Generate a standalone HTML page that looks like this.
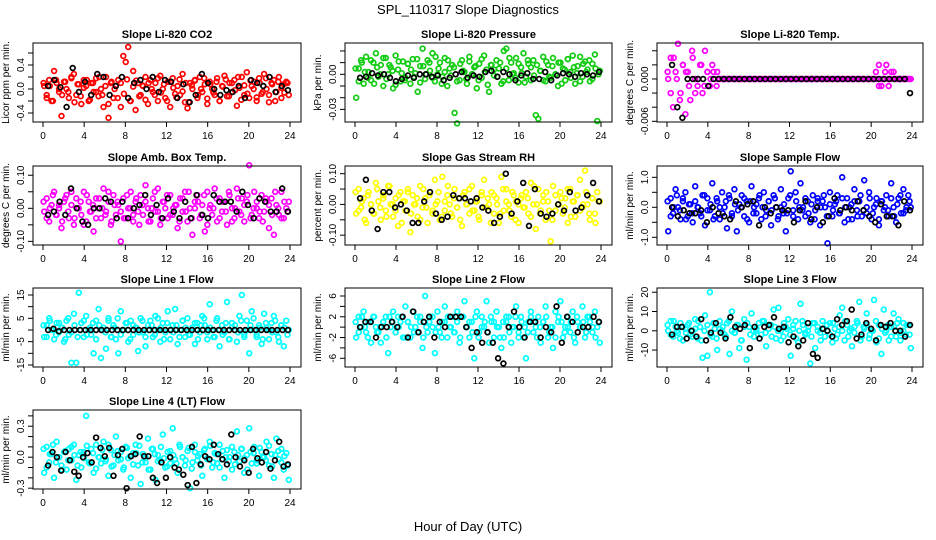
<!DOCTYPE html>
<html><head><meta charset="utf-8"><style>
body{margin:0;background:#fff}
svg{display:block;font-family:"Liberation Sans",sans-serif}
</style></head><body>
<svg id="chart" width="936" height="540">
<text x="468" y="14" font-size="13" text-anchor="middle">SPL_110317  Slope Diagnostics</text>
<text x="468" y="531" font-size="13" text-anchor="middle">Hour of Day (UTC)</text>
</svg>
<script>
const xTicks=[0,4,8,12,16,20,24];
const titles=["Slope Li-820 CO2","Slope Li-820 Pressure","Slope Li-820 Temp.","Slope Amb. Box Temp.","Slope Gas Stream RH","Slope Sample Flow","Slope Line 1 Flow","Slope Line 2 Flow","Slope Line 3 Flow","Slope Line 4 (LT) Flow"];
const yLabels=["Licor ppm per min.","kPa per min.","degrees C per min.","degrees C per min.","percent per min.","ml/min per min.","ml/min per min.","ml/min per min.","ml/min per min.","ml/min per min."];
const yLims=[[-0.55,0.767],[-0.0408,0.0268],[-0.0061,0.0051],[-0.111,0.128],[-0.132,0.125],[-1.257,1.377],[-15.86,18],[-7.68,7.54],[-18.8,22.2],[-0.308,0.457]];
const yTicks=[[-0.4,-0.2,0,0.2,0.4,0.6],[-0.03,-0.02,-0.01,0,0.01,0.02],[-0.006,-0.004,-0.002,0,0.002,0.004],[-0.1,-0.05,0,0.05,0.1],[-0.1,-0.05,0,0.05,0.1],[-1,-0.5,0,0.5,1],[-15,-10,-5,0,5,10,15],[-6,-4,-2,0,2,4,6],[-10,0,10,20],[-0.3,-0.2,-0.1,0,0.1,0.2,0.3,0.4]];
const yTickLabels=[["-0.4","","0.0","","0.4",""],["-0.03","","","0.00","",""],["-0.006","","","0.000","",""],["-0.10","","0.00","","0.10"],["-0.10","","0.00","","0.10"],["-1.0","","0.0","","1.0"],["-15","","-5","","5","","15"],["-6","","-2","","2","","6"],["-10","0","10","20"],["-0.3","","","0.0","","","0.3",""]];
const colors=["#ff0000","#11cc11","#ff00ff","#ff00ff","#ffff00","#0000ff","#00ffff","#00ffff","#00ffff","#00ffff"];
const scales=[1,0.001,0.001,0.01,0.01,0.1,1,1,1,0.01];
const colCO2=[0.05,-0.1,0.15,-0.2,0.3,0.1,-0.05,-0.45,0.12,0.0,-0.15,0.2,0.25,-0.1,0.08,-0.25,0.15,0.05,-0.2,0.1,-0.05,0.18,-0.12,0.0,-0.3,0.2,-0.48,0.1,-0.15,0.05,0.15,-0.3,0.55,0.45,0.7,-0.2,0.3,-0.35,0.1,-0.1,0.05,0.2,-0.25,0.15,-0.05,0.1,-0.2,0.22,0.0,-0.15,0.12,-0.3,0.18,-0.08,0.05,-0.1,0.25,-0.22,-0.32,0.1,0.0,0.15,-0.15,0.2,-0.05,0.08,-0.25,0.12,0.0,-0.1,0.18,-0.2,0.05,0.22,-0.12,0.1,-0.05,0.15,-0.28,0.02,0.2,-0.1,0.28,-0.15,0.05,0.12,-0.2,0.18,-0.08,0.25,0.0,-0.22,0.1,0.15,-0.05,0.2,-0.15,0.08,0.12,-0.1];
const colCO2b=[0.1,-0.15,0.05,-0.2,0.15,0.0,-0.1,0.12,-0.05,0.18,-0.22,0.08,-0.12,0.02,0.15,-0.18,0.1,-0.05,0.2,-0.1,0.05,-0.25,0.12,0.0,-0.15,0.1,-0.08,0.16,-0.2,0.04,0.14,-0.12,0.06,-0.18,0.1,0.0,-0.1,0.18,-0.06,0.08,-0.2,0.12,0.02,-0.14,0.16,-0.04,0.1,-0.22,0.06,0.14,-0.1,0.0,0.18,-0.16,0.08,-0.06,0.12,-0.2,0.04,0.16,-0.12,0.1,-0.02,0.2,-0.18,0.06,-0.08,0.14,0.0,-0.14,0.1,-0.05,0.18,-0.1,0.08,-0.2,0.12,0.02,-0.06,0.1];
const blkCO2=[0.05,0.15,0.03,-0.3,0.35,-0.05,0.12,-0.1,0.25,0.2,-0.1,0.05,0.2,-0.15,0.1,0.15,0.0,0.2,-0.05,0.15,0.12,-0.15,0.08,-0.22,-0.1,0.25,0.1,0.0,-0.1,-0.02,-0.05,0.05,-0.15,0.15,0.1,0.05,0.2,-0.05,0.05,-0.02];
const colPres=[-20,5,12,-8,15,2,-5,10,18,-2,8,-10,14,0,6,-12,16,4,-6,11,-3,9,-8,13,1,-15,7,22,-4,12,3,18,-6,0,10,-2,14,-10,5,8,-33,-42,-5,12,2,-8,15,0,6,-12,9,-3,16,4,-15,8,-1,12,5,-8,20,22,-5,10,1,14,-7,6,18,-2,9,-5,12,-35,-38,3,15,-6,8,-3,14,0,-10,10,5,-5,13,2,16,-8,7,15,-2,11,4,-6,9,17,-40,3];
const colPresb=[5,-6,10,2,-3,12,-8,6,0,14,-4,8,3,-9,11,1,-5,9,4,-2,13,-7,7,0,10,-3,15,5,-8,2,12,-1,6,-6,9,3,-4,11,0,7,-5,13,2,-9,8,4,-2,10,-6,5,14,0,-3,9,1,-7,12,6,-1,8,3,-5,11,-2,7,0,10,-8,4,13,-3,6,1,-6,9,2,12,-4,5,0];
const blkPres=[-3,-2,1,-1,0,-3,-6,-4,-1,-3,0,0,-2,-1,-5,-3,0,2,-3,-1,-2,2,3,-2,2,0,-5,-1,1,-4,-4,2,-5,-1,1,0,-2,1,0,-1,2];
const colTemp=[0,3,-4,1,5,-2,2,-5,1,-3,3,0,-1,2,-2,4,1,-1,2,0,1,0,0,0,0,0,0,0,0,0,0,0,0,0,0,0,0,0,0,0,0,0,0,0,0,0,0,0,0,0,0,0,0,0,0,0,0,0,0,0,0,0,0,0,0,0,0,0,0,0,0,0,0,0,0,0,0,0,0,0,0,0,0,0,0,0,2,-1,0,2,-1,1,1,0,0,0,0,0,0,0];
const colTempb=[1,-2,3,0,-3,2,1,-1,4,-2,0,2,-1,1,0,1,-1,0,0,0,0,0,0,0,0,0,0,0,0,0,0,0,0,0,0,0,0,0,0,0,0,0,0,0,0,0,0,0,0,0,0,0,0,0,0,0,0,0,0,0,0,0,0,0,0,0,0,0,1,-1,0,1,0,0,0,0,0,0,0,0];
const blkTemp=[2,-4,-5.5,0,0,0,0,-1,0,0,0,0,0,0,0,0,0,0,0,0,0,0,0,0,0,0,0,0,0,0,0,0,0,0,0,0,0,0,0,0,0,0,0,0,0,0,-2];
const colAmb=[-1,3,-4,1,5,-2,0,-6,2,4,-3,1,-5,3,0,-2,5,-4,2,-1,-7,3,0,-3,6,-1,2,-5,4,-2,1,-10,3,-3,0,5,-4,2,-1,4,-2,7,0,-4,3,-1,6,-5,2,0,-3,4,-2,1,-6,3,-1,5,-4,0,-8,2,4,-3,1,-7,5,0,-2,6,-4,3,-1,2,-5,4,0,-3,6,-1,3,-4,2,13,-2,5,0,-3,4,-1,2,-6,3,-8,1,-2,5,-3,0,2];
const colAmbb=[2,-3,0,4,-2,1,-4,3,-1,5,-3,0,2,-5,4,-1,1,-3,3,0,-2,5,-4,1,2,-1,-3,4,0,-2,3,-5,1,2,-4,0,5,-1,-3,2,4,-2,0,1,-4,3,-1,5,-3,0,2,-2,4,-5,1,0,3,-3,2,-1,5,-4,0,3,-2,1,4,-3,0,2,-1,-4,3,1,-2,5,0,-3,2,-1];
const blkAmb=[-2,-1,2,-2,6,0,-4,-5,0,0,3,2,-3,2,-3,0,1,4,-2,1,-3,3,-1,-3,2,-3,4,-2,-3,4,2,2,2,-1,5,1,-3,3,2,-1,-1,6,-1];
const colRH=[-3,5,-1,2,-6,4,0,-3,7,1,-5,3,-2,6,0,-4,2,-7,4,1,-2,5,-9,3,0,-4,6,-1,2,-6,4,-3,8,1,-5,9,-2,3,0,-4,5,-1,2,-7,4,0,-3,6,-2,1,-5,3,8,-1,0,4,-3,2,-6,9,-2,5,0,-4,3,1,-6,2,-1,4,-3,7,0,-8,5,-2,3,-5,1,-12,6,-2,0,4,-3,2,-6,5,1,-4,3,8,-1,11,0,-5,2,-3,4,1];
const colRHb=[4,-2,1,-5,3,0,-3,5,-1,2,-4,6,0,-2,3,-6,1,4,-3,0,2,-5,5,-1,3,-2,0,4,-4,1,6,-3,2,-1,-5,3,0,5,-2,1,-4,4,-1,2,-6,3,0,-3,5,1,-2,4,-5,0,3,-1,2,-4,6,0,-3,1,4,-2,-5,3,0,2,-1,5,-4,1,3,-2,0,4,-3,2,-6,1];
const blkRH=[2,8,-2,-8,4,4,-1,0,-2,-6,-6,1,4,-3,-5,-4,3,2,2,1,2,-1,-2,-6,-4,10,-3,1,7,-7,5,-3,-4,-3,0,-2,4,-2,-1,3,7,1];
const colSamp=[-8,3,-2,6,0,-4,2,5,-3,1,-5,7,0,-2,4,-6,3,-1,8,-3,2,-4,5,0,-7,3,-2,6,-8,1,4,-3,2,-5,7,0,-2,3,-4,5,-1,2,-6,4,0,-3,6,-2,-8,3,12,-1,5,-4,8,0,-3,2,-5,4,-1,3,-6,2,0,-12,5,-3,1,4,-2,10,-5,3,0,-4,6,-1,2,-3,9,-2,5,-4,0,3,-6,2,-1,4,-3,8,0,-5,3,-2,6,-1,4,0];
const colSampb=[2,-3,0,4,-1,3,-4,1,-2,2,0,-3,4,-1,1,-4,3,0,-2,2,4,-3,1,-1,0,3,-4,2,-2,1,4,0,-3,2,-1,3,-4,0,1,-2,4,-3,2,0,-1,3,-2,1,-4,2,0,4,-3,1,-1,2,-2,3,0,-4,1,2,-3,4,-1,0,3,-2,1,-4,2,0,-1,3,-3,1,4,-2,0,2];
const blkSamp=[0,-3,-1,-2,-2,-1,-5,0,-2,-3,-4,2,0,1,2,-6,0,-2,0,-1,-1,-5,-1,2,-4,0,-5,-3,3,-1,0,-1,2,-1,-3,-5,1,-3,-3,-6,2,-1];
const colL1=[-3,2,5,0,-4,3,-1,1,-5,4,-2,-14,7,-14,16,3,-3,6,0,-2,-10,4,9,-12,1,-8,5,-3,2,-4,-10,8,0,3,-5,4,-2,1,-9,5,-1,-7,2,4,-3,6,0,-5,3,-1,8,-4,2,9,-6,0,4,-3,5,-2,1,-6,3,-1,6,2,-4,11,0,-3,5,-7,2,-1,12,-4,3,0,-5,6,15,-2,4,-10,8,0,-3,2,-6,7,1,-4,3,6,-1,-5,2,-7,4,0];
const colL1b=[2,-3,4,0,-2,3,1,-4,5,-1,2,-3,0,4,-2,1,3,-4,2,0,-1,4,-3,1,5,-2,0,3,-4,2,1,-1,4,-3,0,2,-2,5,1,-4,3,0,-1,2,-3,4,1,-2,0,3,-4,2,5,-1,1,-3,4,0,-2,3,-4,1,2,-1,4,-3,0,2,5,-2,1,-4,3,0,-1,4,-3,2,1,-2];
const blkL1=[0,0.5,-0.5,0,0,0,0,0,0,0,0,0,0,0,0,0,0,0,0,0,0,0,0,0,0,0,0,0,0,0,0,0,0,0,0,0,0,0,0,0,0,0,0,0,0,0];
const colL2=[-2,2,0,3,-1,1,-3,2,0,-1,-3,1,2,-5,0,3,-1,2,1,-2,4,1,-2,3,0,-1,2,-4,6,-1,2,0,-5,3,-1,1,4,-2,0,2,-1,3,-3,2,5,0,-2,1,-6,3,-1,2,0,5,-3,1,-2,3,0,-4,-2,1,2,-3,0,4,-1,2,-2,-6,1,3,-1,0,2,-3,1,4,-2,0,-4,3,1,5,-2,0,2,-1,3,-3,1,0,4,-2,2,1,-1,3,0,-3];
const colL2b=[1,-1,2,0,-2,1,2,-1,0,1,-2,2,1,-1,0,2,-2,1,0,-1,2,1,-2,0,1,2,-1,0,-2,1,2,0,-1,1,-2,2,0,1,-1,2,-2,0,1,-1,2,1,0,-2,1,2,-1,0,2,-2,1,0,-1,2,1,-2,0,1,2,-1,0,-2,2,1,-1,0,1,-2,2,0,1,-1,2,0,-2,1];
const blkL2=[0,1,1,-2,0,0,1,0,2,-2,3,-1,1,2,-2,1,0,2,2,2,0,-4,-1,-3,-1,-3,-6,-7,0,3,0,-2,1,1,-2,0,-1,4,-3,2,1,-1,0,0,2,1];
const colL3=[0,5,-3,2,-1,4,-5,1,3,-2,0,6,-4,2,-14,8,-13,20,-3,1,-10,5,0,-2,4,-12,10,-1,3,-9,-5,6,-15,2,9,-3,0,4,-2,5,-8,1,3,11,-4,12,0,-3,2,6,-13,1,5,-6,14,3,-2,0,-17,4,-9,2,-1,5,-3,0,4,-6,1,-2,8,12,-5,3,0,-8,2,5,15,-3,1,9,-4,0,16,-6,3,-12,11,0,-5,2,9,-3,6,-1,4,-2,3,-9];
const colL3b=[3,-2,5,0,-4,2,-1,4,-3,1,5,-5,0,3,-2,4,-4,1,2,-3,5,0,-1,3,-5,2,4,-2,0,1,-4,5,-1,3,-3,2,0,-5,4,1,-2,3,-4,0,5,-1,2,-3,4,0,-5,1,3,-2,4,-4,2,0,5,-3,1,-1,4,-5,2,3,-2,0,5,-4,1,-1,3,-3,2,4,-5,0,3,-2];
const blkL3=[-2,2,2,-4,0,-3,6,-5,-1,4,-1,-4,7,2,1,3,-9,2,-4,2,3,7,1,2,-6,-3,-8,-5,4,-12,-14,1,0,-3,6,3,5,11,-4,-2,4,1,-5,3,2,4,0,0,-3,3];
const colL4=[-15,10,-5,3,-20,15,0,-8,5,-12,8,-3,12,-22,2,-10,5,40,-5,8,-15,12,0,-6,15,-2,-18,7,-8,20,-3,5,-12,10,-1,-20,4,12,-8,-26,3,-5,18,-12,8,-22,2,-3,22,-10,5,-6,28,-2,-15,10,0,-8,6,-30,-5,12,-3,3,-18,8,-1,15,-10,4,-6,12,-2,-20,7,0,-12,5,25,-4,8,-15,2,28,-6,10,-3,-18,5,0,15,-8,3,-20,18,-2,8,-12,4,-22];
const colL4b=[8,-10,3,12,-5,0,-12,6,-3,10,2,-8,5,-1,11,-6,4,-11,0,7,-4,12,-9,2,6,-2,-10,9,1,-7,4,11,-5,0,-12,8,3,-4,10,-1,-9,6,2,-6,12,0,-3,9,-11,5,1,-8,7,-2,11,-5,3,-10,6,0,-4,10,-7,2,8,-1,-12,5,4,-6,9,0,-3,11,-9,2,6,-5,1,-8];
const blkL4=[-8,5,0,-13,5,-3,-14,-18,0,4,-5,19,9,1,9,-18,2,8,-30,1,3,20,1,1,-20,-25,-5,-20,0,-10,-12,-17,-27,10,-25,-7,1,-2,12,3,-2,-7,22,0,-9,-3,-15,8,-1,-5,5,-11,-3,15,-9,-7];
const colSeries=[colCO2,colPres,colTemp,colAmb,colRH,colSamp,colL1,colL2,colL3,colL4];
const colSeriesB=[colCO2b,colPresb,colTempb,colAmbb,colRHb,colSampb,colL1b,colL2b,colL3b,colL4b];
const blkSeries=[blkCO2,blkPres,blkTemp,blkAmb,blkRH,blkSamp,blkL1,blkL2,blkL3,blkL4];

const NS="http://www.w3.org/2000/svg";
const svg=document.getElementById('chart');
const colBox=[[33,301],[345,612],[657,923]];
const rowBox=[[43,122],[166,245],[288,367],[410,489]];
function mk(tag,attrs,parent,text){const e=document.createElementNS(NS,tag);for(const k in attrs)e.setAttribute(k,attrs[k]);if(text!==undefined)e.textContent=text;parent.appendChild(e);return e;}
function xScale(b,v){const x0=b.l+10,x1=b.r-11;return x0+(x1-x0)*v/24;}
function yScale(b,lim,v){return b.b-(v-lim[0])/(lim[1]-lim[0])*(b.b-b.t);}
for(let p=0;p<10;p++){
  const c=p%3,r=Math.floor(p/3);
  const b={l:colBox[c][0],r:colBox[c][1],t:rowBox[r][0],b:rowBox[r][1]};
  const lim=yLims[p],s=scales[p];
  const g=mk('g',{},svg);
  
  
  const t=mk('text',{x:(b.l+b.r)/2,y:b.t-5,'font-size':11,'font-weight':'bold','text-anchor':'middle'},g,titles[p]);
  
  
  const pts=mk('g',{fill:'none','stroke-width':1.7},g);
  
  
  const cs=colSeries[p];
  cs.forEach((v,i)=>{
    const xv=24*(i+0.5)/cs.length;
    const cc=mk('circle',{cx:xScale(b,xv).toFixed(1),cy:yScale(b,lim,v*s).toFixed(1),r:2.4,stroke:colors[p]},pts);
    
    
  });
  const cb=colSeriesB[p];
  cb.forEach((v,i)=>{
    const xv=24*(i+0.2)/cb.length;
    const cc=mk('circle',{cx:xScale(b,xv).toFixed(1),cy:yScale(b,lim,v*s).toFixed(1),r:2.4,stroke:colors[p]},pts);
    
    
  });
  const bs=blkSeries[p];
  bs.forEach((v,i)=>{
    const xv=0.5+23.3*i/(bs.length-1);
    const cc=mk('circle',{cx:xScale(b,xv).toFixed(1),cy:yScale(b,lim,v*s).toFixed(1),r:2.4,stroke:'#000'},pts);
    
    
  });
  const box=mk('rect',{x:b.l,y:b.t,width:b.r-b.l,height:b.b-b.t,fill:'none',stroke:'#000','stroke-width':1},g);
  
  
  const xa=mk('g',{},g);
  
  
  mk('line',{x1:xScale(b,0),x2:xScale(b,24),y1:b.b,y2:b.b,stroke:'#000'},xa);
  xTicks.forEach(v=>{const x=xScale(b,v);mk('line',{x1:x,x2:x,y1:b.b,y2:b.b+5,stroke:'#000'},xa);
    const tl=mk('text',{x:x,y:b.b+17,'font-size':10,'text-anchor':'middle'},xa,String(v));
    
    });
  const ya=mk('g',{},g);
  
  
  const tks=yTicks[p].filter(v=>v>=lim[0]&&v<=lim[1]);
  mk('line',{x1:b.l,x2:b.l,y1:yScale(b,lim,tks[0]),y2:yScale(b,lim,tks[tks.length-1]),stroke:'#000'},ya);
  yTicks[p].forEach((v,i)=>{if(v<lim[0]||v>lim[1])return;const y=yScale(b,lim,v);
    mk('line',{x1:b.l-5,x2:b.l,y1:y,y2:y,stroke:'#000'},ya);
    const lab=yTickLabels[p][i];
    if(lab){const tl=mk('text',{x:b.l-9,y:y,'font-size':10,'text-anchor':'middle',transform:`rotate(-90 ${b.l-9} ${y})`},ya,lab);
      
      }
  });
  const yl=mk('text',{x:b.l-24,y:(b.t+b.b)/2,'font-size':10,'text-anchor':'middle',transform:`rotate(-90 ${b.l-24} ${(b.t+b.b)/2})`},g,yLabels[p]);
  
  
}
</script>
</body></html>
